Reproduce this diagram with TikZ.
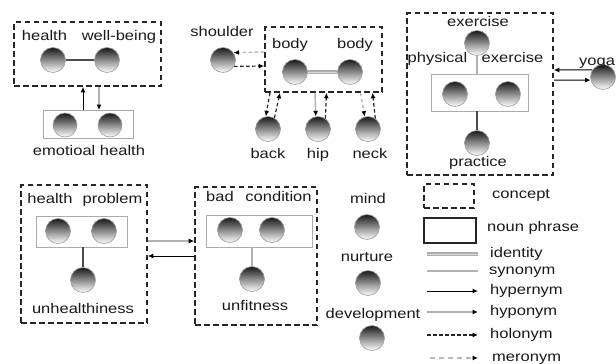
\documentclass[tikz,border=0pt]{standalone}
\usepackage{fontspec}
\setmainfont{Liberation Sans}[FakeStretch=1.18]
\usetikzlibrary{arrows.meta}
\begin{document}
\begin{tikzpicture}[x=1pt,y=-1pt,
  ball/.style={circle, minimum size=25pt, inner sep=0pt, draw=gray!75, line width=0.6pt,
    top color=black!90, middle color=gray!55, bottom color=white},
  concept/.style={draw=black!85, line width=1.6pt, dash pattern=on 5.5pt off 3.5pt, inner sep=0pt},
  np/.style={draw=gray!65, line width=0.8pt, inner sep=0pt},
  lbl/.style={inner sep=0pt, text=black!90, font=\fontsize{14}{16}\selectfont, text height=10pt, text depth=3pt},
  tip/.style={-{Latex[length=5.5pt,width=5pt,color=black]}},
  hyper/.style={draw=black, line width=1pt, tip},
  hypo/.style={draw=gray!60, line width=1.4pt, tip},
  holo/.style={draw=black!85, line width=1.2pt, dash pattern=on 3.5pt off 2.5pt, tip},
  mero/.style={draw=gray!55, line width=1.4pt, dash pattern=on 3.5pt off 2.5pt, tip},
  syn/.style={draw=gray!60!black, line width=1.3pt},
  ident/.style={draw=gray!65, double=gray!30, double distance=1pt, line width=1.2pt}
]
\useasboundingbox (0,0) rectangle (616,364);

% ---- health / well-being
\node[concept, minimum width=147pt, minimum height=64pt] (c1) at (87.5,54) {};
\node[lbl] (t1) at (44.5,37) {health};
\node[lbl] (t2) at (119,37) {well-being};
\node[ball] (h1) at (53,60) {};
\node[ball] (h2) at (107,60) {};
\draw[syn] (h1) -- (h2);
\node[np, minimum width=90pt, minimum height=28pt] (np1) at (88,124.5) {};
\node[ball, minimum size=24pt] (e1) at (65,125) {};
\node[ball, minimum size=24pt] (e2) at (110,125) {};
\node[lbl] (t3) at (89,152) {emotioal health};
\draw[hyper] ([xshift=-5pt]np1.north) -- ([xshift=-4.5pt]c1.south);
\draw[hypo] ([xshift=11.5pt]c1.south) -- ([xshift=11pt]np1.north);

% ---- body
\node[lbl] (t4) at (222,33) {shoulder};
\node[ball] (sh) at (223,60) {};
\node[concept, minimum width=117pt, minimum height=65pt] (c2) at (323.5,59.5) {};
\node[lbl] (t5) at (290,45) {body};
\node[lbl] (t6) at (355,45) {body};
\node[ball] (b1) at (295,72) {};
\node[ball] (b2) at (350,72) {};
\draw[ident] (b1) -- (b2);
\draw[mero] ([yshift=7.5pt]c2.west) -- (sh.35);
\draw[holo] (sh.-30) -- ([yshift=-6.5pt]c2.west);
\node[ball] (back) at (268,129) {};
\node[ball] (hip) at (318,129) {};
\node[ball] (neck) at (368,129) {};
\node[lbl] (t7) at (268,155) {back};
\node[lbl] (t8) at (318,155) {hip};
\node[lbl] (t9) at (370,155) {neck};
\draw[holo] ([xshift=-53.5pt]c2.south) -- (back.100);
\draw[holo] (back.60) -- ([xshift=-43.5pt]c2.south);
\draw[hypo] ([xshift=-8.5pt]c2.south) -- (hip.100);
\draw[holo] (hip.55) -- ([xshift=3pt]c2.south);
\draw[mero] ([xshift=37pt]c2.south) -- (neck.105);
\draw[holo] (neck.55) -- ([xshift=49pt]c2.south);

% ---- exercise
\node[concept, minimum width=146pt, minimum height=162pt] (c3) at (480,94) {};
\node[lbl] (t10) at (478,23) {exercise};
\node[ball] (ex) at (477,43) {};
\node[lbl] (t11) at (437.5,59) {physical};
\node[lbl] (t12) at (512.5,59) {exercise};
\node[np, minimum width=97pt, minimum height=37pt] (np3) at (479.5,92.5) {};
\node[ball] (p1) at (455,94) {};
\node[ball] (p2) at (508,94) {};
\node[ball] (pr) at (477,143) {};
\node[lbl] (t13) at (478,163) {practice};
\draw[syn, draw=gray!60] (ex.south) -- (ex.south |- np3.north);
\draw[syn] (pr.north |- np3.south) -- (pr.north);
\node[ball] (yoga) at (603,77) {};
\node[lbl, anchor=west] (t14) at (579,62) {yoga};
\draw[hyper] (yoga.146) -- ([yshift=24pt]c3.east);
\draw[hyper] ([yshift=14pt]c3.east) -- (yoga.194);

% ---- health problem
\node[concept, minimum width=126pt, minimum height=138pt] (c4) at (84,254) {};
\node[lbl] (t15) at (50,200) {health};
\node[lbl] (t16) at (112.5,200) {problem};
\node[np, minimum width=91pt, minimum height=31pt] (np4) at (81.5,231.5) {};
\node[ball] (q1) at (58,231) {};
\node[ball] (q2) at (104,231) {};
\node[ball] (u) at (83,280) {};
\node[lbl] (t17) at (83,310) {unhealthiness};
\draw[syn] (u.north |- np4.south) -- (u.north);

% ---- bad condition
\node[concept, minimum width=122pt, minimum height=138pt] (c5) at (256,256) {};
\node[lbl] (t18) at (220,198) {bad};
\node[lbl] (t19) at (278.5,198) {condition};
\node[np, minimum width=106pt, minimum height=32pt] (np5) at (259,231) {};
\node[ball] (r1) at (230,230) {};
\node[ball] (r2) at (272,230) {};
\node[ball] (uf) at (252,279) {};
\node[lbl] (t20) at (255,307) {unfitness};
\draw[syn, draw=gray!60] (uf.north |- np5.south) -- (uf.north);
\draw[hypo] ([yshift=13pt]c4.east) -- ([yshift=15pt]c5.west);
\draw[hyper] (c5.west) -- ([yshift=-2pt]c4.east);

% ---- mind / nurture / development
\node[lbl] (t21) at (368,200) {mind};
\node[ball] (m1) at (367,227) {};
\node[lbl] (t22) at (367,258) {nurture};
\node[ball] (m2) at (368,283) {};
\node[lbl] (t23) at (373,315) {development};
\node[ball] (m3) at (372,338) {};

% ---- legend
\node[concept, minimum width=50pt, minimum height=24pt] (lc) at (449,196) {};
\node[lbl, anchor=west] (lt1) at (492,195) {concept};
\node[draw=black!85, line width=1.6pt, inner sep=0pt, minimum width=52pt, minimum height=25pt] (ln) at (450,230.5) {};
\node[lbl, anchor=west] (lt2) at (487,228) {noun phrase};
\coordinate (a1) at (427,254); \coordinate (b1x) at (478,254);
\coordinate (a2) at (427,271); \coordinate (b2x) at (478,271);
\coordinate (a3) at (427,291); \coordinate (b3x) at (478,291);
\coordinate (a4) at (427,312); \coordinate (b4x) at (478,312);
\coordinate (a5) at (427,335); \coordinate (b5x) at (478,335);
\coordinate (a6) at (430,358); \coordinate (b6x) at (478,358);
\draw[ident] (a1) -- (b1x);
\draw[syn, draw=gray!60] (a2) -- (b2x);
\draw[hyper] (a3) -- (b3x);
\draw[hypo] (a4) -- (b4x);
\draw[holo] (a5) -- (b5x);
\draw[mero, dash pattern=on 5pt off 4pt] (a6) -- (b6x);
\node[lbl, anchor=west] at (490,254) {identity};
\node[lbl, anchor=west] at (489,271) {synonym};
\node[lbl, anchor=west] at (490,291) {hypernym};
\node[lbl, anchor=west] at (490,312) {hyponym};
\node[lbl, anchor=west] at (490,335) {holonym};
\node[lbl, anchor=west] at (492,358) {meronym};
\end{tikzpicture}
\end{document}
